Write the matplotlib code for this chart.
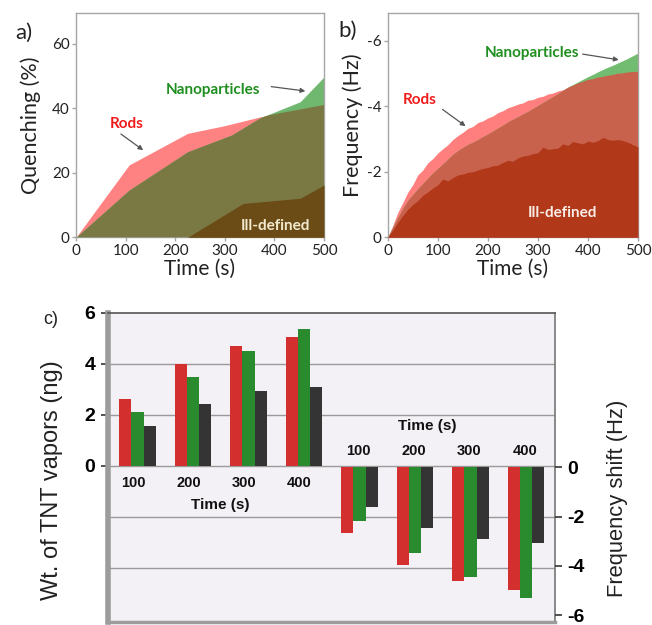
import numpy as np
import matplotlib
matplotlib.use("Agg")
import matplotlib.pyplot as plt

plt.rcParams['axes.unicode_minus'] = False

# ---------------- Panel a data (Quenching %) ----------------
a_rods_t = [0, 107, 225, 300, 371, 500]
a_rods_v = [0, 22.4, 32.2, 34.6, 37.3, 41.0]
a_nano_t = [0, 107, 225, 314, 371, 452, 500]
a_nano_v = [0, 14.6, 26.5, 31.7, 37.0, 42.0, 49.7]
a_ill_t = [0, 225, 337, 452, 500]
a_ill_v = [0, 0, 10.5, 12.1, 16.2]

# ---------------- Panel b data (Frequency, Hz) ----------------
b_t = list(range(0, 501, 10))
b_rods = [0, -0.35, -0.75, -1.05, -1.37, -1.6, -1.9, -2.05, -2.27, -2.4,
          -2.57, -2.7, -2.82, -2.98, -3.1, -3.2, -3.32, -3.38, -3.5, -3.55,
          -3.64, -3.7, -3.8, -3.86, -3.95, -4.0, -4.06, -4.1, -4.18, -4.2,
          -4.27, -4.3, -4.37, -4.4, -4.46, -4.5, -4.57, -4.62, -4.69, -4.74,
          -4.8, -4.82, -4.87, -4.89, -4.93, -4.95, -4.99, -5.0, -5.03, -5.04, -5.05]
b_nano = [0, -0.3, -0.6, -0.88, -1.12, -1.3, -1.48, -1.64, -1.8, -1.96,
          -2.1, -2.24, -2.38, -2.53, -2.64, -2.74, -2.83, -2.9, -2.98, -3.07,
          -3.15, -3.24, -3.33, -3.42, -3.52, -3.6, -3.68, -3.76, -3.84, -3.93,
          -4.02, -4.11, -4.2, -4.29, -4.38, -4.48, -4.58, -4.66, -4.74, -4.82,
          -4.9, -4.97, -5.05, -5.12, -5.19, -5.25, -5.32, -5.39, -5.46, -5.54, -5.62]
b_ill = [0, -0.22, -0.45, -0.66, -0.85, -1.0, -1.12, -1.28, -1.38, -1.5,
         -1.6, -1.78, -1.72, -1.82, -1.9, -1.93, -1.98, -2.0, -2.05, -2.1,
         -2.13, -2.18, -2.2, -2.28, -2.35, -2.32, -2.42, -2.48, -2.5, -2.55,
         -2.58, -2.75, -2.68, -2.7, -2.72, -2.85, -2.8, -2.92, -2.88, -2.85,
         -2.93, -2.9, -2.95, -3.05, -2.98, -2.96, -2.98, -2.95, -2.9, -2.82, -2.76]

# ---------------- Panel c data ----------------
c_times = ["100", "200", "300", "400"]
c_wt_rods = [2.62, 4.0, 4.68, 5.05]
c_wt_nano = [2.13, 3.49, 4.49, 5.38]
c_wt_ill = [1.55, 2.42, 2.95, 3.08]
c_fs_rods = [-2.66, -3.97, -4.63, -4.98]
c_fs_nano = [-2.16, -3.46, -4.44, -5.30]
c_fs_ill = [-1.61, -2.46, -2.93, -3.09]

W, H = 652, 625
fig = plt.figure(figsize=(W / 100, H / 100), dpi=100)

def fr(x0, y0, x1, y1):
    return [x0 / W, 1 - y1 / H, (x1 - x0) / W, (y1 - y0) / H]

LATO = ['Lato', 'DejaVu Sans']
ARIAL = ['Liberation Sans', 'DejaVu Sans']
spine_col = '#a6a6a6'

def style_ab(ax):
    for s in ax.spines.values():
        s.set_color(spine_col)
        s.set_linewidth(1.0)
    ax.tick_params(colors=spine_col, length=3, width=1, labelcolor='#222222',
                   labelsize=11, pad=1.5)
    for lab in ax.get_xticklabels() + ax.get_yticklabels():
        lab.set_family(LATO)

# ---------------- Panel a ----------------
axa = fig.add_axes(fr(76, 13, 324, 237.3))
pink = '#ff8282'
lgreen = '#70b870'
olive = '#7a7944'
brown = '#6c4c16'
rods_a = axa.fill_between(a_rods_t, a_rods_v, color=pink, lw=0, zorder=1)
axa.fill_between(a_nano_t, a_nano_v, color=lgreen, lw=0, zorder=2)
ov = axa.fill_between(a_nano_t, a_nano_v, color=olive, lw=0, zorder=3)
ov.set_clip_path(rods_a.get_paths()[0], axa.transData)
axa.fill_between(a_ill_t, a_ill_v, color=brown, lw=0, zorder=4)
axa.set_xlim(0, 500)
axa.set_ylim(0, 69.5)
axa.set_xticks([0, 100, 200, 300, 400, 500])
axa.set_yticks([0, 20, 40, 60])
style_ab(axa)
axa.set_xlabel("Time (s)", family=LATO, fontsize=15, labelpad=1, color='#222222')
axa.set_ylabel("Quenching (%)", family=LATO, fontsize=15.5, labelpad=8, color='#222222')
axa.text(103, 35, "Rods", color='#f01c1c', fontsize=11, fontweight='bold',
         family=LATO, ha='center', va='center', zorder=6)
axa.annotate("", xy=(140, 26.5), xytext=(86, 32.5),
             arrowprops=dict(arrowstyle='-|>', color='#555555', lw=0.9,
                             mutation_scale=7), zorder=6)
axa.text(276, 45.5, "Nanoparticles", color='#1f8f1f', fontsize=11,
         fontweight='bold', family=LATO, ha='center', va='center', zorder=6)
axa.annotate("", xy=(468, 45.2), xytext=(388, 46.8),
             arrowprops=dict(arrowstyle='-|>', color='#555555', lw=0.9,
                             mutation_scale=7), zorder=6)
axa.text(402, 3.5, "Ill-defined", color='#f2ead0', fontsize=11,
         fontweight='bold', family=LATO, ha='center', va='center', zorder=6)
fig.text(24 / W, 1 - 33 / H, "a)", fontsize=16, family=LATO, ha='center',
         va='center', color='#222222')

# ---------------- Panel b ----------------
axb = fig.add_axes(fr(387.7, 12.7, 638, 237.3))
bpink = '#ff7e7e'
bgreen = '#72bc72'
bmid = '#c8624c'
bdark = '#b2381a'
rods_b = axb.fill_between(b_t, b_rods, color=bpink, lw=0, zorder=1)
axb.fill_between(b_t, b_nano, color=bgreen, lw=0, zorder=2)
ovb = axb.fill_between(b_t, b_nano, color=bmid, lw=0, zorder=3)
ovb.set_clip_path(rods_b.get_paths()[0], axb.transData)
axb.fill_between(b_t, b_ill, color=bdark, lw=0, zorder=4)
axb.set_xlim(0, 500)
axb.set_ylim(0, -6.85)
axb.set_xticks([0, 100, 200, 300, 400, 500])
axb.set_yticks([0, -2, -4, -6])
style_ab(axb)
axb.set_xlabel("Time (s)", family=LATO, fontsize=15, labelpad=1, color='#222222')
axb.set_ylabel("Frequency (Hz)", family=LATO, fontsize=15.5, labelpad=3, color='#222222')
axb.text(63, -4.2, "Rods", color='#f01c1c', fontsize=11, fontweight='bold',
         family=LATO, ha='center', va='center', zorder=6)
axb.annotate("", xy=(160, -3.34), xytext=(105, -3.95),
             arrowprops=dict(arrowstyle='-|>', color='#555555', lw=0.9,
                             mutation_scale=7), zorder=6)
axb.text(288, -5.62, "Nanoparticles", color='#1f8f1f', fontsize=11,
         fontweight='bold', family=LATO, ha='center', va='center', zorder=6)
axb.annotate("", xy=(467, -5.4), xytext=(384, -5.6),
             arrowprops=dict(arrowstyle='-|>', color='#555555', lw=0.9,
                             mutation_scale=7), zorder=6)
axb.text(350, -0.75, "Ill-defined", color='#f8ece6', fontsize=11,
         fontweight='bold', family=LATO, ha='center', va='center', zorder=6)
fig.text(348 / W, 1 - 31 / H, "b)", fontsize=16, family=LATO, ha='center',
         va='center', color='#222222')

# ---------------- Panel c ----------------
axc = fig.add_axes(fr(108, 312.7, 555, 621.7))
axc.set_facecolor('#f4f1f6')
axc.set_xlim(-0.53, 7.52)
axc.set_ylim(-6.1, 6.0)
for gy in [4, 2, 0, -2, -4]:
    axc.axhline(gy, color='#9a9a9a', lw=1.0, zorder=1)

axr = axc.twinx()
axr.set_ylim(-6.27, 6.28)

red = '#d42f2f'
grn = '#2a8a2e'
blk = '#343434'
bw = 0.22
xl = np.arange(4)
xr = np.arange(4) + 4
axc.bar(xl - bw, c_wt_rods, bw, color=red, zorder=3)
axc.bar(xl, c_wt_nano, bw, color=grn, zorder=3)
axc.bar(xl + bw, c_wt_ill, bw, color=blk, zorder=3)
axr.bar(xr - bw, c_fs_rods, bw, color=red, zorder=3)
axr.bar(xr, c_fs_nano, bw, color=grn, zorder=3)
axr.bar(xr + bw, c_fs_ill, bw, color=blk, zorder=3)

for i, lab in enumerate(c_times):
    axc.text(xl[i] - 0.08, -0.67, lab, fontsize=10.5, fontweight='bold',
             family=ARIAL, ha='center', va='center', color='#111111')
    axc.text(xr[i] - 0.02, 0.6, lab, fontsize=10.5, fontweight='bold',
             family=ARIAL, ha='center', va='center', color='#111111')
axc.text(1.49, -1.53, "Time (s)", fontsize=11, fontweight='bold', family=ARIAL,
         ha='center', va='center', color='#111111')
axc.text(5.22, 1.57, "Time (s)", fontsize=11, fontweight='bold', family=ARIAL,
         ha='center', va='center', color='#111111')

axc.set_xticks([])
axc.set_yticks([0, 2, 4, 6])
axc.set_yticklabels(["0", "2", "4", "6"], fontsize=14, fontweight='bold',
                    family=ARIAL)
axc.tick_params(axis='y', length=5, width=1.2, color='#333333', pad=4)
axc.spines['left'].set_color('#9c9c9c')
axc.spines['left'].set_linewidth(4)
axc.spines['bottom'].set_color('#9c9c9c')
axc.spines['bottom'].set_linewidth(2.5)
axc.spines['top'].set_color('#555555')
axc.spines['top'].set_linewidth(1.2)
axc.spines['right'].set_color('#777777')
axc.spines['right'].set_linewidth(1.2)

axr.set_yticks([0, -2, -4, -6])
axr.set_yticklabels(["0", "-2", "-4", "-6"], fontsize=14, fontweight='bold',
                    family=ARIAL)
axr.tick_params(axis='y', length=5, width=1.2, color='#333333', pad=4)
for s in axr.spines.values():
    s.set_visible(False)

fig.text(52 / W, 1 - 480 / H, "Wt. of TNT vapors (ng)", rotation=90,
         fontsize=17, family=ARIAL, ha='center', va='center', color='#222222')
fig.text(617 / W, 1 - 498 / H, "Frequency shift (Hz)", rotation=90,
         fontsize=15.8, family=ARIAL, ha='center', va='center', color='#222222')
fig.text(51 / W, 1 - 320 / H, "c)", fontsize=13, family=ARIAL, ha='center',
         va='center', color='#222222')

fig.savefig("out.png", dpi=100)
